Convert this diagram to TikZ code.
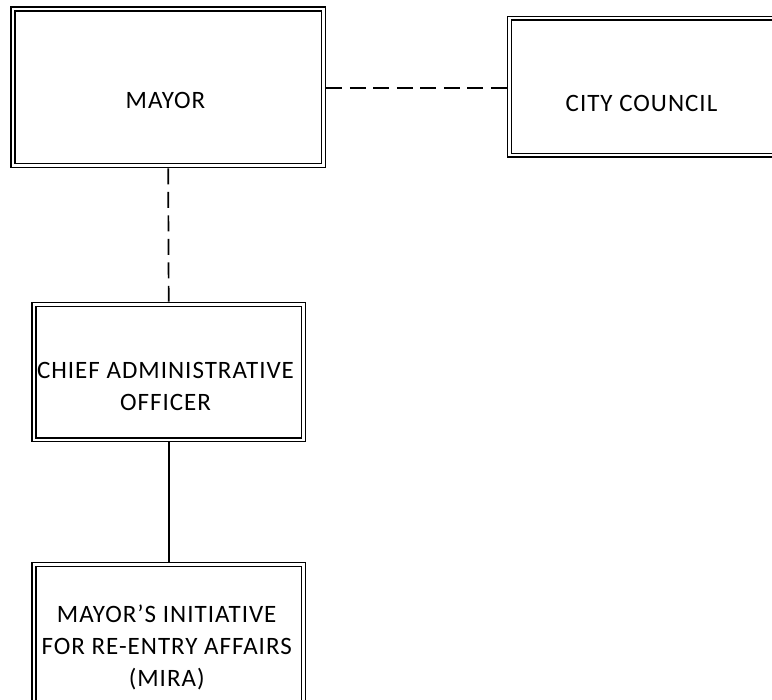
\documentclass[tikz,border=0pt]{standalone}
\usepackage{fontspec}
\newfontfamily\boxfont[LetterSpace=4]{Carlito}
\begin{document}
\begin{tikzpicture}[x=1pt,y=-1pt,
  orgbox/.style={draw, rectangle, line width=1.6pt, double, double distance=2.3pt,
    inner sep=0pt, outer sep=2.75pt},
  boxtext/.style={font=\boxfont\fontsize{25}{32}\selectfont, align=center,
    inner sep=0pt, anchor=base},
  link/.style={line width=1.7pt},
  dashlink/.style={link, dash pattern=on 16pt off 7.5pt}]
\useasboundingbox (0,0) rectangle (772,700);
\clip (0,0) rectangle (772,700);

% boxes (border paths run midway between the two lines)
\node[orgbox, minimum width=310.7pt, minimum height=156.5pt] (mayor) at (168.2,87.3) {};
\node[orgbox, minimum width=290pt, minimum height=137pt] (council) at (654.5,86.8) {};
\node[orgbox, minimum width=269.3pt, minimum height=135.2pt] (cao) at (168.7,372.1) {};
\node[orgbox, minimum width=269.3pt, minimum height=160pt] (mira) at (168.7,644.5) {};

% box captions (base anchor = baseline of the last line)
\node[boxtext] (mayortext) at (165.5,109) {MAYOR};
\node[boxtext] (counciltext) at (641.5,111.7) {CITY COUNCIL};
\node[boxtext] (caotext) at (165.5,410.7) {CHIEF ADMINISTRATIVE\\OFFICER};
\node[boxtext] (miratext) at (166.7,686.5) {MAYOR’S INITIATIVE\\FOR RE-ENTRY AFFAIRS\\(MIRA)};

% reporting lines
\draw[dashlink] (mayor.east |- 0,88) -- (council.west |- 0,88);
\draw[dashlink] (mayor.south) -- (cao.north);
\draw[link] (cao.south) -- (mira.north);
\end{tikzpicture}
\end{document}
